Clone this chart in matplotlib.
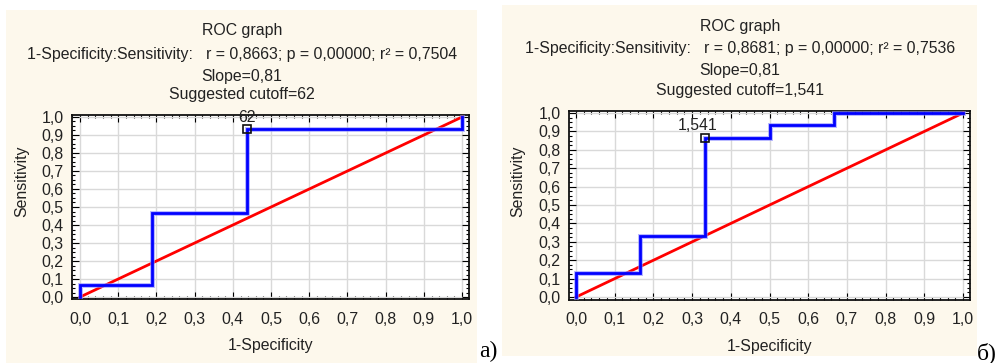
import matplotlib
matplotlib.use("Agg")
import matplotlib.pyplot as plt
from matplotlib.patches import Rectangle
from matplotlib.ticker import MultipleLocator, AutoMinorLocator, FuncFormatter

plt.rcParams["font.family"] = ["Liberation Sans", "DejaVu Sans"]

# panel a
fpr_a = [0.0, 0.0, 0.1875, 0.1875, 0.4375, 0.4375, 1.0, 1.0]
tpr_a = [0.0, 0.0667, 0.0667, 0.4667, 0.4667, 0.9333, 0.9333, 1.0]
cut_a = (0.4375, 0.9333)
cut_label_a = "62"
title_a = ["ROC graph",
           "1-Specificity:Sensitivity:   r = 0,8663; p = 0,00000; r² = 0,7504",
           "Slope=0,81",
           "Suggested cutoff=62"]

# panel b
fpr_b = [0.0, 0.0, 0.1667, 0.1667, 0.3333, 0.3333, 0.5, 0.5, 0.6667, 0.6667, 1.0]
tpr_b = [0.0, 0.1333, 0.1333, 0.3333, 0.3333, 0.8667, 0.8667, 0.9333, 0.9333, 1.0, 1.0]
cut_b = (0.3333, 0.8667)
cut_label_b = "1,541"
title_b = ["ROC graph",
           "1-Specificity:Sensitivity:   r = 0,8681; p = 0,00000; r² = 0,7536",
           "Slope=0,81",
           "Suggested cutoff=1,541"]

W, H = 1004, 363
fig = plt.figure(figsize=(W / 100, H / 100), dpi=100)
bg = "#fdf8ec"
txt = "#222222"
fs = 11.4


def px(x0, y0, x1, y1):
    # pixel box -> figure fraction [left, bottom, width, height]
    return [x0 / W, 1 - y1 / H, (x1 - x0) / W, (y1 - y0) / H]


def panel(bg_box, ax_box, xlim, ylim, fpr, tpr, cut, cut_label, cut_dx,
          title, title_x, title_y, ylab_x, tag, tag_xy):
    b = px(*bg_box)
    fig.patches.append(Rectangle((b[0], b[1]), b[2], b[3], transform=fig.transFigure,
                                 facecolor=bg, edgecolor="none", zorder=-5))
    ax = fig.add_axes(px(*ax_box))
    ax.set_facecolor("white")
    ax.set_xlim(*xlim)
    ax.set_ylim(*ylim)
    ax.xaxis.set_major_locator(MultipleLocator(0.1))
    ax.yaxis.set_major_locator(MultipleLocator(0.1))
    ax.xaxis.set_minor_locator(AutoMinorLocator(5))
    ax.yaxis.set_minor_locator(AutoMinorLocator(4))
    fmt = FuncFormatter(lambda v, p: f"{v:.1f}".replace(".", ","))
    ax.xaxis.set_major_formatter(fmt)
    ax.yaxis.set_major_formatter(fmt)
    ax.tick_params(which="both", direction="in", top=True, right=True,
                   labelsize=fs, labelcolor=txt, width=0.8)
    ax.tick_params(which="major", length=5, pad=9)
    ax.tick_params(axis="y", which="major", pad=6)
    ax.tick_params(which="minor", length=2.5)
    ax.grid(True, which="major", color="#d9d9d9", linewidth=1)
    for s in ax.spines.values():
        s.set_linewidth(1.3)
        s.set_color("#111111")

    ax.plot([0, 1], [0, 1], color="#ff0000", linewidth=2, zorder=3)
    ax.plot(fpr, tpr, color="#8c8cff", linewidth=3.6, alpha=0.6, zorder=4,
            solid_joinstyle="miter")
    ax.plot(fpr, tpr, color="#0000ff", linewidth=2, zorder=5,
            solid_joinstyle="miter")
    ax.plot([cut[0]], [cut[1]], marker="s", markersize=6, markerfacecolor="none",
            markeredgecolor="#111111", markeredgewidth=1.2, zorder=6)
    ax.annotate(cut_label, cut, xytext=(cut_dx, 3), textcoords="offset points",
                ha="center", va="bottom", fontsize=fs, color=txt, zorder=7)

    ax.set_xlabel("1-Specificity", fontsize=fs, color=txt, labelpad=8)
    ax.set_ylabel("Sensitivity", fontsize=fs, color=txt)
    ax.yaxis.set_label_coords(ylab_x, 0.5, transform=fig.transFigure)

    for i, line in enumerate(title):
        fig.text(title_x / W, 1 - title_y[i] / H, line, ha="center", va="center",
                 fontsize=fs, color=txt)
    fig.text(tag_xy[0] / W, 1 - tag_xy[1] / H, tag, ha="center", va="center",
             fontsize=17, family=["Liberation Serif", "DejaVu Serif"], color="black")
    return ax


panel((6, 10, 477, 363), (72, 115, 469, 299), (-0.021, 1.018), (-0.011, 1.011),
      fpr_a, tpr_a, cut_a, cut_label_a, 0, title_a, 242, [31, 54, 76, 95],
      29 / W, "a)", (488, 351))
panel((502, 5, 977, 356), (569, 111, 970, 300), (-0.018, 1.018), (-0.016, 1.011),
      fpr_b, tpr_b, cut_b, cut_label_b, -5, title_b, 740, [26, 49, 71, 90],
      525 / W, "б)", (987, 353))

fig.savefig("out.png", dpi=100)
